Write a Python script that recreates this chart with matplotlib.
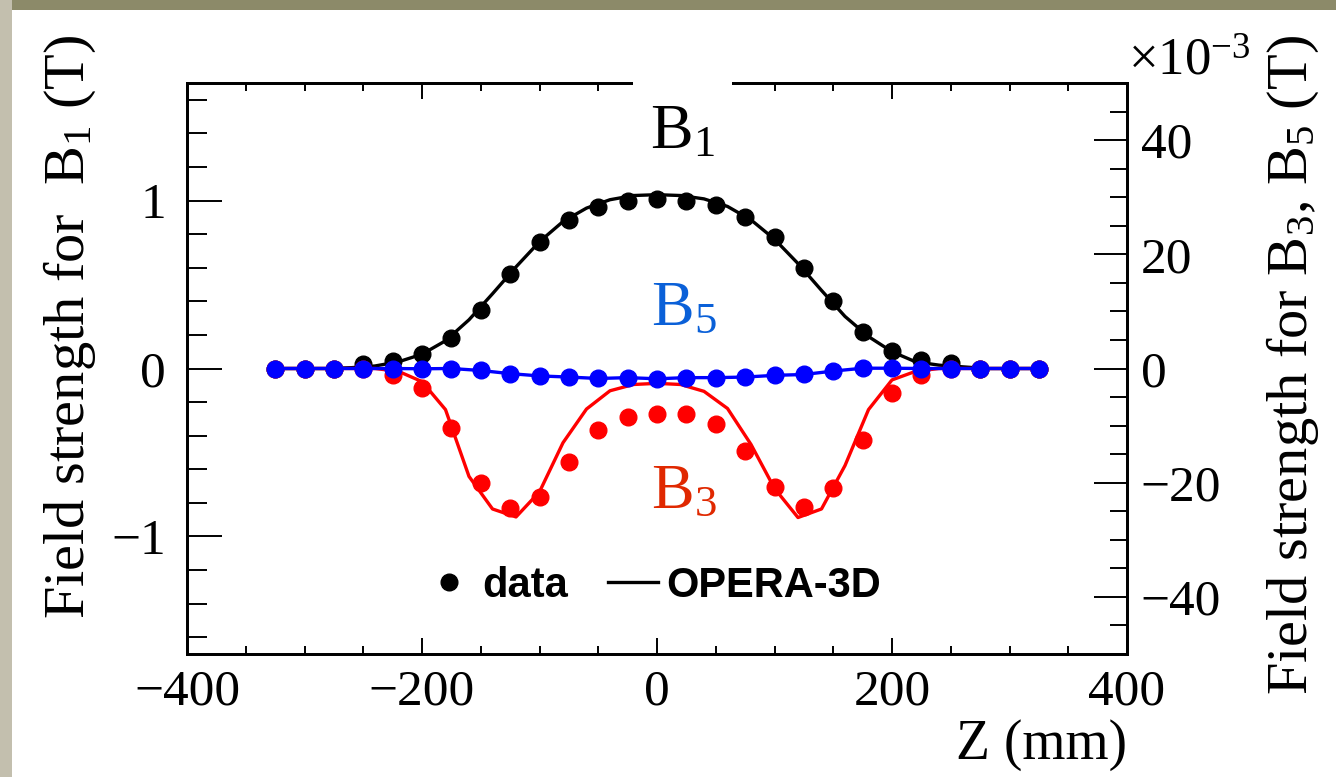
import matplotlib
matplotlib.use("Agg")
from matplotlib import pyplot as plt
from matplotlib.patches import Rectangle
from matplotlib.ticker import MultipleLocator

plt.rcParams['font.family'] = ['Liberation Serif', 'DejaVu Serif']
plt.rcParams['mathtext.fontset'] = 'custom'
plt.rcParams['mathtext.rm'] = 'Liberation Serif'
plt.rcParams['mathtext.it'] = 'Liberation Serif:italic'

# measured points (Z in mm)
z_data = [-325, -300, -275, -250, -225, -200, -175, -150, -125, -100, -75, -50, -25, 0,
          25, 50, 75, 100, 125, 150, 175, 200, 225, 250, 275, 300, 325]
b1_data = [0, 0, 0, 0.024, 0.044, 0.089, 0.18, 0.35, 0.56, 0.755, 0.885, 0.96, 1.0, 1.01,
           1.0, 0.975, 0.9, 0.785, 0.6, 0.40, 0.22, 0.103, 0.05, 0.03, 0, 0, 0]
# B3, B5 in units of 1e-3 T
b3_data = [0, 0, 0, 0, -1.1, -3.4, -10.5, -20.0, -24.5, -22.5, -16.3, -10.8, -8.5, -8.0,
           -8.0, -9.7, -14.4, -20.7, -24.2, -21.0, -12.6, -4.3, -1.2, 0, 0, 0, 0]
b5_data = [0, 0, 0, 0, 0, -0.05, 0, -0.35, -0.9, -1.3, -1.5, -1.75, -1.6, -1.8,
           -1.6, -1.6, -1.5, -1.2, -1.05, -0.45, 0.05, 0.05, 0, 0, 0, 0, 0]

# OPERA-3D simulation
z_sim = [-320, -300, -280, -260, -240, -220, -200, -180, -160, -140, -120, -100, -80, -60,
         -40, -20, 0, 20, 40, 60, 80, 100, 120, 140, 160, 180, 200, 220, 240, 260, 280,
         300, 320]
b1_sim = [0, 0, 0, 0.005, 0.015, 0.04, 0.085, 0.165, 0.29, 0.445, 0.605, 0.755, 0.875,
          0.955, 1.005, 1.03, 1.035, 1.03, 1.01, 0.965, 0.885, 0.77, 0.625, 0.465, 0.31,
          0.19, 0.1, 0.04, 0.02, 0.01, 0, 0, 0]
b3_sim = [0, 0, 0, 0, 0, -0.5, -2.3, -7.2, -18.9, -24.6, -26.0, -21.6, -13.0, -7.1,
          -3.9, -2.8, -2.6, -2.8, -4.0, -7.0, -13.3, -21.0, -26.1, -24.6, -17.0, -7.2,
          -2.0, -0.5, 0, 0, 0, 0, 0]
# B5 simulation lies on top of the measured points
z_sim5 = [-325, -300, -275, -250, -225, -200, -175, -150, -125, -100, -75, -50, -25, 0,
          25, 50, 75, 100, 125, 150, 175, 200, 225, 250, 275, 300, 325]
b5_sim = [0, 0, 0, 0, 0, -0.05, 0, -0.35, -0.9, -1.3, -1.5, -1.75, -1.6, -1.8,
          -1.6, -1.6, -1.5, -1.2, -1.05, -0.45, 0.05, 0.05, 0, 0, 0, 0, 0]

W, H = 1336, 777
fig = plt.figure(figsize=(W / 100, H / 100), dpi=100)
fig.patch.set_facecolor('white')
# textured page border
fig.add_artist(Rectangle((0, 1 - 10 / H), 1, 10 / H, transform=fig.transFigure,
                         facecolor='#8c8a69', edgecolor='none', zorder=-1))
fig.add_artist(Rectangle((0, 0), 12 / W, 1, transform=fig.transFigure,
                         facecolor='#c3bfae', edgecolor='none', zorder=-1))

ax = fig.add_axes([187 / W, (H - 654) / H, (1127 - 187) / W, (654 - 83) / H])
ax2 = ax.twinx()
ax.set_facecolor('white')

ax.plot(z_sim, b1_sim, color='black', lw=2.4, label='OPERA-3D')
ax.plot(z_data, b1_data, 'o', color='black', ms=12, label='data')
ax2.plot(z_sim, b3_sim, color='#ff0000', lw=2.4)
ax2.plot(z_data, b3_data, 'o', color='#ff0000', ms=12)
ax2.plot(z_sim5, b5_sim, color='#0000ff', lw=2.4)
ax2.plot(z_data, b5_data, 'o', color='#0000ff', ms=12)

ax.set_xlim(-400, 400)
ax.set_ylim(-1.7, 1.7)
ax2.set_ylim(-50, 50)

ax.xaxis.set_major_locator(MultipleLocator(200))
ax.xaxis.set_minor_locator(MultipleLocator(50))
ax.yaxis.set_major_locator(MultipleLocator(1))
ax.yaxis.set_minor_locator(MultipleLocator(0.2))
ax2.yaxis.set_major_locator(MultipleLocator(20))
ax2.yaxis.set_minor_locator(MultipleLocator(5))

ax.tick_params(axis='x', which='both', direction='in', top=True, bottom=True,
               width=1.4, labelsize=37, pad=11)
ax.tick_params(axis='x', which='major', length=11.5)
ax.tick_params(axis='x', which='minor', length=5.8)
ax.tick_params(axis='y', which='both', direction='in', width=1.4, labelsize=37, pad=15)
ax.tick_params(axis='y', which='major', length=25)
ax.tick_params(axis='y', which='minor', length=14.4)
ax2.tick_params(axis='y', which='both', direction='in', width=1.4, labelsize=37, pad=10)
ax2.tick_params(axis='y', which='major', length=24)
ax2.tick_params(axis='y', which='minor', length=12)
for a in (ax, ax2):
    for s in a.spines.values():
        s.set_linewidth(2)

# gap in the top frame behind the B1 label
fig.add_artist(Rectangle((633 / W, 1 - 100 / H), 99 / W, 28 / H, transform=fig.transFigure,
                         facecolor='white', edgecolor='none', zorder=5))

fig.text(650 / W, 1 - 148 / H, r'$\mathrm{B}_{1}$', fontsize=46, color='black',
         ha='left', va='baseline', zorder=6)
fig.text(651 / W, 1 - 325 / H, r'$\mathrm{B}_{5}$', fontsize=46, color='#0a60d8',
         ha='left', va='baseline', zorder=6)
fig.text(651 / W, 1 - 508 / H, r'$\mathrm{B}_{3}$', fontsize=46, color='#e02800',
         ha='left', va='baseline', zorder=6)

fig.text(1128 / W, 1 - 75 / H, r'$\times10^{-3}$', fontsize=38, ha='left', va='baseline')
fig.text(70 / W, 1 - 35 / H, r'Field strength for  $\mathrm{B}_{1}$ (T)', fontsize=42,
         rotation=90, ha='center', va='top')
fig.text(1293 / W, 1 - 35 / H, r'Field strength for $\mathrm{B}_{3}$, $\mathrm{B}_{5}$ (T)',
         fontsize=42, rotation=90, ha='center', va='top')
fig.text(1127 / W, 1 - 745 / H, 'Z (mm)', fontsize=40, ha='right', va='center')

h_line, h_dot = ax.get_lines()
ax.legend([h_dot, h_line], ['data', 'OPERA-3D'], ncol=2, frameon=False,
          prop={'family': 'Liberation Sans', 'weight': 'bold', 'size': 30},
          handlelength=1.2, handletextpad=0.2, columnspacing=0.95,
          loc='center left', bbox_to_anchor=((424 - 187) / 940, (654 - 586) / 571),
          borderpad=0, borderaxespad=0)

fig.savefig('out.png', dpi=100, facecolor=fig.get_facecolor())
